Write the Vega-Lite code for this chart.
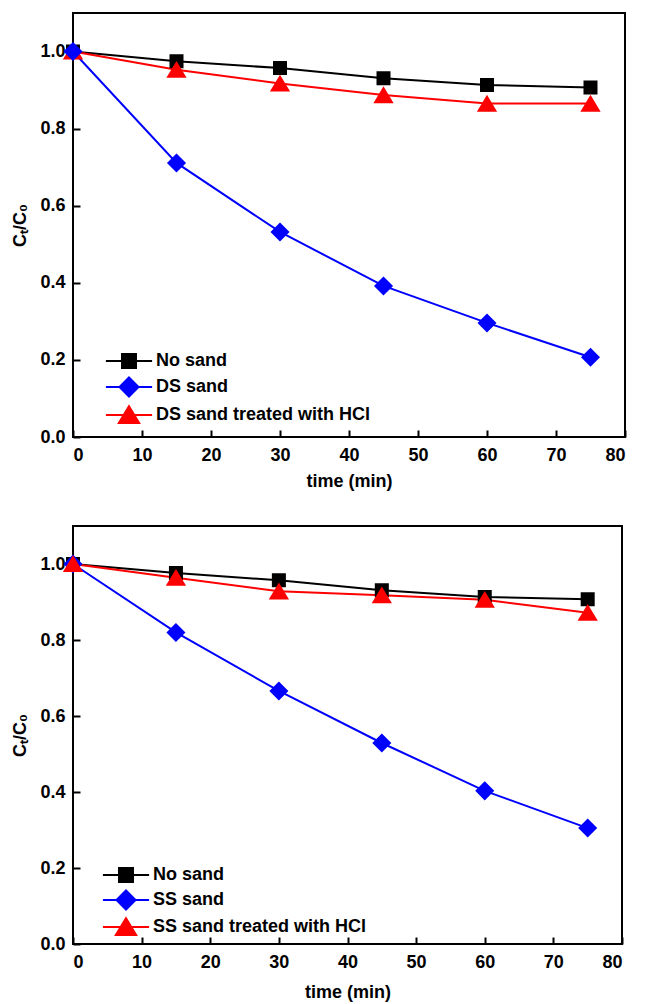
{
  "$schema": "https://vega.github.io/schema/vega-lite/v6.json",
  "background": "white",
  "padding": {"left": 10, "top": 12, "right": 13, "bottom": 5},
  "config": {
    "font": "Liberation Sans",
    "view": {"stroke": "black", "strokeWidth": 2},
    "axis": {
      "grid": false,
      "zindex": 1,
      "domain": false,
      "ticks": true,
      "tickOpacity": 1,
      "offset": -7,
      "tickColor": "#000000",
      "tickWidth": 2,
      "tickSize": 7,
      "labelFont": "Liberation Sans",
      "labelFontWeight": "bold",
      "labelFontSize": 18,
      "labelColor": "black",
      "titleFont": "Liberation Sans",
      "titleFontWeight": "bold",
      "titleFontSize": 18,
      "titleColor": "black"
    },
    "legend": {
      "labelFont": "Liberation Sans",
      "labelFontWeight": "bold",
      "labelFontSize": 18,
      "labelColor": "black",
      "labelLimit": 400,
      "labelOffset": 18,
      "symbolSize": 196,
      "symbolStrokeWidth": 2
    }
  },
  "datasets": {
    "panelA": [
      {"series": "No sand", "t": 0, "ratio": 1.0},
      {"series": "No sand", "t": 15, "ratio": 0.975},
      {"series": "No sand", "t": 30, "ratio": 0.957},
      {"series": "No sand", "t": 45, "ratio": 0.931},
      {"series": "No sand", "t": 60, "ratio": 0.913},
      {"series": "No sand", "t": 75, "ratio": 0.907},
      {"series": "DS sand treated with HCl", "t": 0, "ratio": 1.0},
      {"series": "DS sand treated with HCl", "t": 15, "ratio": 0.953},
      {"series": "DS sand treated with HCl", "t": 30, "ratio": 0.917},
      {"series": "DS sand treated with HCl", "t": 45, "ratio": 0.887},
      {"series": "DS sand treated with HCl", "t": 60, "ratio": 0.865},
      {"series": "DS sand treated with HCl", "t": 75, "ratio": 0.865},
      {"series": "DS sand", "t": 0, "ratio": 1.0},
      {"series": "DS sand", "t": 15, "ratio": 0.711},
      {"series": "DS sand", "t": 30, "ratio": 0.532},
      {"series": "DS sand", "t": 45, "ratio": 0.392},
      {"series": "DS sand", "t": 60, "ratio": 0.296},
      {"series": "DS sand", "t": 75, "ratio": 0.207}
    ],
    "panelB": [
      {"series": "No sand", "t": 0, "ratio": 1.0},
      {"series": "No sand", "t": 15, "ratio": 0.976},
      {"series": "No sand", "t": 30, "ratio": 0.957},
      {"series": "No sand", "t": 45, "ratio": 0.931},
      {"series": "No sand", "t": 60, "ratio": 0.913},
      {"series": "No sand", "t": 75, "ratio": 0.907},
      {"series": "SS sand", "t": 0, "ratio": 1.0},
      {"series": "SS sand", "t": 15, "ratio": 0.82},
      {"series": "SS sand", "t": 30, "ratio": 0.666},
      {"series": "SS sand", "t": 45, "ratio": 0.529},
      {"series": "SS sand", "t": 60, "ratio": 0.403},
      {"series": "SS sand", "t": 75, "ratio": 0.305},
      {"series": "SS sand treated with HCl", "t": 0, "ratio": 1.0},
      {"series": "SS sand treated with HCl", "t": 15, "ratio": 0.964},
      {"series": "SS sand treated with HCl", "t": 30, "ratio": 0.928},
      {"series": "SS sand treated with HCl", "t": 45, "ratio": 0.918},
      {"series": "SS sand treated with HCl", "t": 60, "ratio": 0.906},
      {"series": "SS sand treated with HCl", "t": 75, "ratio": 0.872}
    ]
  },
  "resolve": {"scale": {"color": "independent", "shape": "independent"}},
  "spacing": 34,
  "vconcat": [
    {
      "width": 552,
      "height": 424,
      "encoding": {
        "x": {
          "field": "t", "type": "quantitative", "title": "time (min)",
          "scale": {"domain": [0, 80], "nice": false},
          "axis": {"values": [0, 10, 20, 30, 40, 50, 60, 70, 80], "tickSize": 7, "labelPadding": 9, "titlePadding": 8}
        },
        "y": {
          "field": "ratio", "type": "quantitative", "title": "Cₜ/C₀",
          "scale": {"domain": [0, 1.1], "nice": false},
          "axis": {"values": [0, 0.2, 0.4, 0.6, 0.8, 1.0], "format": ".1f", "tickSize": 7, "labelPadding": 8, "titlePadding": 10}
        }
      },
      "layer": [
        {
          "data": {"name": "panelA"},
          "mark": {"type": "line", "strokeWidth": 2},
          "encoding": {
            "color": {
              "field": "series", "type": "nominal",
              "scale": {"domain": ["No sand", "DS sand", "DS sand treated with HCl"], "range": ["#000000", "#0000ff", "#ff0000"]},
              "legend": {"title": null, "orient": "none", "legendX": 47, "legendY": 339, "rowPadding": 1,
                "encode": {"symbols": {"update": {"stroke": {"signal": "['#000000', '#0000ff', '#ff0000'][datum.index]"}, "strokeWidth": {"value": 2}}}}}
            }
          }
        },
        {
          "data": {"name": "panelA"},
          "mark": {"type": "point", "filled": true, "opacity": 1, "size": 196},
          "encoding": {
            "color": {
              "field": "series", "type": "nominal",
              "scale": {"domain": ["No sand", "DS sand", "DS sand treated with HCl"], "range": ["#000000", "#0000ff", "#ff0000"]},
              "legend": {"title": null, "orient": "none", "legendX": 47, "legendY": 339, "rowPadding": 1,
                "encode": {"symbols": {"update": {"stroke": {"signal": "['#000000', '#0000ff', '#ff0000'][datum.index]"}, "strokeWidth": {"value": 2}}}}}
            },
            "shape": {
              "field": "series", "type": "nominal",
              "scale": {
                "domain": ["No sand", "DS sand", "DS sand treated with HCl"],
                "range": [
                  "M-3.3,0H-1M1,0H3.3M-1,-1H1V1H-1Z",
                  "M-3.3,0H-1.36M1.36,0H3.3M0,-1.36L1.36,0L0,1.36L-1.36,0Z",
                  "M-3.3,0H-0.75M0.75,0H3.3M0,-1.25L1.45,1.15L-1.45,1.15Z"
                ]
              },
              "legend": {"title": null, "orient": "none", "legendX": 47, "legendY": 339, "rowPadding": 1,
                "encode": {"symbols": {"update": {"stroke": {"signal": "['#000000', '#0000ff', '#ff0000'][datum.index]"}, "strokeWidth": {"value": 2}}}}}
            }
          }
        },
        {
          "data": {"values": [{"tag": "(a)"}]},
          "mark": {"type": "text", "font": "Liberation Sans", "fontWeight": "bold", "fontSize": 17, "align": "right", "baseline": "middle", "color": "black"},
          "encoding": {
            "x": {"datum": 79.2, "type": "quantitative"},
            "y": {"datum": 1.062, "type": "quantitative"},
            "text": {"field": "tag"}
          }
        }
      ]
    },
    {
      "width": 549,
      "height": 418,
      "encoding": {
        "x": {
          "field": "t", "type": "quantitative", "title": "time (min)",
          "scale": {"domain": [0, 80], "nice": false},
          "axis": {"values": [0, 10, 20, 30, 40, 50, 60, 70, 80], "tickSize": 7, "labelPadding": 9, "titlePadding": 12}
        },
        "y": {
          "field": "ratio", "type": "quantitative", "title": "Cₜ/C₀",
          "scale": {"domain": [0, 1.1], "nice": false},
          "axis": {"values": [0, 0.2, 0.4, 0.6, 0.8, 1.0], "format": ".1f", "tickSize": 7, "labelPadding": 8, "titlePadding": 10}
        }
      },
      "layer": [
        {
          "data": {"name": "panelB"},
          "mark": {"type": "line", "strokeWidth": 2},
          "encoding": {
            "color": {
              "field": "series", "type": "nominal",
              "scale": {"domain": ["No sand", "SS sand", "SS sand treated with HCl"], "range": ["#000000", "#0000ff", "#ff0000"]},
              "legend": {"title": null, "orient": "none", "legendX": 44, "legendY": 340, "rowPadding": 0}
            }
          }
        },
        {
          "data": {"name": "panelB"},
          "mark": {"type": "point", "filled": true, "opacity": 1, "size": 196},
          "encoding": {
            "color": {
              "field": "series", "type": "nominal",
              "scale": {"domain": ["No sand", "SS sand", "SS sand treated with HCl"], "range": ["#000000", "#0000ff", "#ff0000"]},
              "legend": {"title": null, "orient": "none", "legendX": 44, "legendY": 340, "rowPadding": 0}
            },
            "shape": {
              "field": "series", "type": "nominal",
              "scale": {
                "domain": ["No sand", "SS sand", "SS sand treated with HCl"],
                "range": [
                  "M-3.3,0H-1M1,0H3.3M-1,-1H1V1H-1Z",
                  "M-3.3,0H-1.36M1.36,0H3.3M0,-1.36L1.36,0L0,1.36L-1.36,0Z",
                  "M-3.3,0H-0.75M0.75,0H3.3M0,-1.25L1.45,1.15L-1.45,1.15Z"
                ]
              },
              "legend": {"title": null, "orient": "none", "legendX": 44, "legendY": 340, "rowPadding": 0}
            }
          }
        },
        {
          "data": {"values": [{"tag": "(b)"}]},
          "mark": {"type": "text", "font": "Liberation Sans", "fontWeight": "bold", "fontSize": 17, "align": "right", "baseline": "middle", "color": "black"},
          "encoding": {
            "x": {"datum": 79.2, "type": "quantitative"},
            "y": {"datum": 1.062, "type": "quantitative"},
            "text": {"field": "tag"}
          }
        }
      ]
    }
  ]
}
